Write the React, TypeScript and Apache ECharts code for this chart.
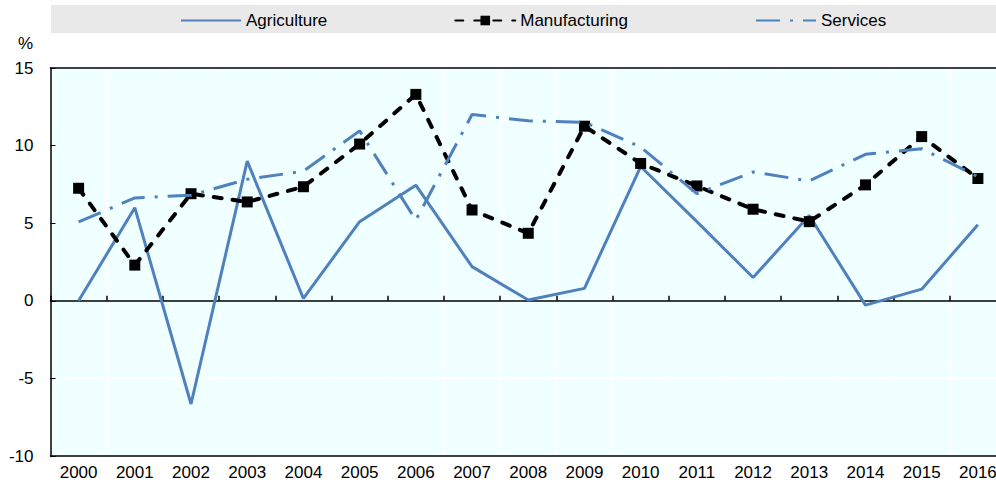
import React, { useEffect, useRef } from "react";
import * as echarts from "echarts";

const years = ["2000","2001","2002","2003","2004","2005","2006","2007","2008","2009","2010","2011","2012","2013","2014","2015","2016"];
const agriculture = [0, 6.0, -6.65, 9.0, 0.15, 5.1, 7.45, 2.2, 0.05, 0.8, 8.65, 5.1, 1.5, 5.5, -0.28, 0.75, 4.9];
const manufacturing = [7.25, 2.3, 6.9, 6.37, 7.35, 10.1, 13.3, 5.85, 4.35, 11.25, 8.85, 7.4, 5.9, 5.1, 7.47, 10.58, 7.88];
const services = [5.08, 6.63, 6.8, 7.83, 8.35, 10.95, 5.2, 12.0, 11.6, 11.5, 9.9, 6.9, 8.3, 7.72, 9.44, 9.8, 8.0];
const yTicks = { min: -10, max: 15, interval: 5 };

const FONT = "Arial, 'Liberation Sans', sans-serif";
const BLUE = "#4f81bd";

export default function App() {
  const ref = useRef<HTMLDivElement>(null);
  useEffect(() => {
    if (!ref.current) return;
    const chart = echarts.init(ref.current, null, { renderer: "svg" });
    chart.setOption({
      animation: false,
      textStyle: { fontFamily: FONT },
      graphic: [
        { type: "rect", left: 51, top: 5, shape: { width: 945, height: 28 }, style: { fill: "#e9e9e9" }, z: -1 },
        { type: "text", left: 18, top: 35, style: { text: "%", fontSize: 17, fontFamily: FONT, fill: "#000" } },
      ],
      legend: {
        left: 175,
        top: 7,
        itemWidth: 60,
        itemHeight: 12,
        itemGap: 127,
        textStyle: { fontSize: 17, color: "#000", fontFamily: FONT },
        data: [
          { name: "Agriculture", itemStyle: { opacity: 0 } },
          { name: "Manufacturing" },
          { name: "Services", itemStyle: { opacity: 0 } },
        ],
      },
      grid: {
        left: 50.5,
        right: 0,
        top: 68,
        bottom: 29,
        show: true,
        backgroundColor: "#f0ffff",
        borderWidth: 0,
      },
      xAxis: [
        {
          type: "category",
          data: years,
          position: "bottom",
          boundaryGap: true,
          axisLine: { onZero: false, lineStyle: { color: "#000", width: 1.5 } },
          axisTick: { show: false },
          axisLabel: { fontSize: 17, color: "#000", margin: 8, fontFamily: FONT },
          splitLine: { show: true, lineStyle: { color: "#ffffff", width: 1 } },
        },
        {
          type: "category",
          data: years,
          position: "bottom",
          boundaryGap: true,
          axisLine: { onZero: true, lineStyle: { color: "#000", width: 1.5 } },
          axisTick: { show: true, inside: true, length: 5, lineStyle: { color: "#000", width: 1.5 } },
          axisLabel: { show: false },
          splitLine: { show: false },
        },
        {
          type: "category",
          data: years,
          position: "top",
          axisLine: { onZero: false, lineStyle: { color: "#000", width: 1.5 } },
          axisTick: { show: false },
          axisLabel: { show: false },
          splitLine: { show: false },
        },
      ],
      yAxis: {
        type: "value",
        min: yTicks.min,
        max: yTicks.max,
        interval: yTicks.interval,
        axisLine: { show: true, lineStyle: { color: "#000", width: 1.5 } },
        axisTick: { show: true, inside: true, length: 5, lineStyle: { color: "#000", width: 1 } },
        axisLabel: { fontSize: 17, color: "#000", margin: 17, fontFamily: FONT },
        splitLine: { show: true, lineStyle: { color: "#ffffff", width: 1 } },
      },
      series: [
        {
          name: "Agriculture",
          type: "line",
          data: agriculture,
          xAxisIndex: 0,
          symbol: "none",
          itemStyle: { color: BLUE },
          lineStyle: { color: BLUE, width: 3 },
        },
        {
          name: "Manufacturing",
          type: "line",
          data: manufacturing,
          xAxisIndex: 0,
          symbol: "rect",
          symbolSize: 11,
          itemStyle: { color: "#000" },
          lineStyle: { color: "#000", width: 4, type: [8, 11], cap: "round" },
          z: 3,
        },
        {
          name: "Services",
          type: "line",
          data: services,
          xAxisIndex: 0,
          symbol: "none",
          itemStyle: { color: BLUE },
          lineStyle: { color: BLUE, width: 3, type: [24, 10, 3, 10] },
          z: 4,
        },
      ],
    });
    return () => chart.dispose();
  }, []);
  return (
    <div style={{ width: 996, height: 485, position: "absolute", left: 0, top: 0, overflow: "hidden" }}>
      <div ref={ref} style={{ width: 1006, height: 485 }} />
    </div>
  );
}
